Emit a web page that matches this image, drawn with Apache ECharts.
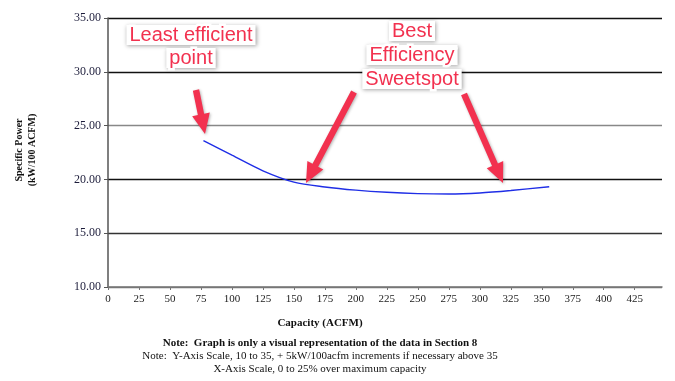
<!DOCTYPE html>
<html><head><meta charset="utf-8">
<script src="https://cdn.jsdelivr.net/npm/echarts@6/dist/echarts.min.js"></script>
<style>html,body{margin:0;padding:0;background:#fff}#c{width:675px;height:381px}</style>
</head><body><div id="c"></div>
<script>
const capacity = [77, 100, 125, 150, 175, 200, 225, 250, 275, 300, 325, 356];
const specificPower = [23.6, 22.25, 20.8, 19.75, 19.3, 19.0, 18.8, 18.68, 18.64, 18.74, 18.97, 19.32];
const yTitle = ['Specific Power', '(kW/100 ACFM)'];
const xTitle = 'Capacity (ACFM)';
const notes = [
  'Note:  Graph is only a visual representation of the data in Section 8',
  'Note:  Y-Axis Scale, 10 to 35, + 5kW/100acfm increments if necessary above 35',
  'X-Axis Scale, 0 to 25% over maximum capacity'
];
const callout1 = ['Least efficient', 'point'];
const callout2 = ['Best', 'Efficiency', 'Sweetspot'];

const serif = '"Liberation Serif","Times New Roman",serif';
const sans = '"Liberation Sans",Arial,sans-serif';
const red = '#f2314f';
const chart = echarts.init(document.getElementById('c'));

function calloutText(lines, x, y, lh) {
  return lines.map((t, i) => ({
    type: 'text', z: 20,
    x: x, y: y + i * lh,
    style: {
      text: t, align: 'center', verticalAlign: 'middle',
      font: '20px ' + sans, fill: red, stroke: '#fff', lineWidth: 5,
      backgroundColor: '#fff', padding: [0, 3],
      shadowColor: 'rgba(0,0,0,0.35)', shadowBlur: 4, shadowOffsetX: 1, shadowOffsetY: 1
    }
  }));
}
function arrow(x1, y1, x2, y2) {
  const dx = x2 - x1, dy = y2 - y1, L = Math.hypot(dx, dy);
  const ux = dx / L, uy = dy / L, px = -uy, py = ux;
  const head = 20, hw = 9, sw = 3.2;
  const bx = x2 - ux * head, by = y2 - uy * head;
  return {
    type: 'polygon', z: 15,
    shape: { points: [
      [x1 + px * sw, y1 + py * sw], [bx + px * sw, by + py * sw], [bx + px * hw, by + py * hw],
      [x2, y2], [bx - px * hw, by - py * hw], [bx - px * sw, by - py * sw], [x1 - px * sw, y1 - py * sw]
    ] },
    style: { fill: red, shadowColor: 'rgba(0,0,0,0.3)', shadowBlur: 3, shadowOffsetX: 1, shadowOffsetY: 1 }
  };
}

const graphics = [];
graphics.push({ type: 'text', x: 26, y: 150, rotation: Math.PI / 2, z: 10,
  style: { text: yTitle.join('\n'), align: 'center', verticalAlign: 'middle', font: 'bold 10px ' + serif, fill: '#111', lineHeight: 13 } });
graphics.push({ type: 'text', x: 320, y: 323, z: 10,
  style: { text: xTitle, align: 'center', verticalAlign: 'middle', font: 'bold 11px ' + serif, fill: '#111' } });
graphics.push({ type: 'text', x: 320, y: 343, z: 10,
  style: { text: notes[0], align: 'center', verticalAlign: 'middle', font: 'bold 11px ' + serif, fill: '#111' } });
graphics.push({ type: 'text', x: 320, y: 356, z: 10,
  style: { text: notes[1], align: 'center', verticalAlign: 'middle', font: '11px ' + serif, fill: '#111' } });
graphics.push({ type: 'text', x: 320, y: 369, z: 10,
  style: { text: notes[2], align: 'center', verticalAlign: 'middle', font: '11px ' + serif, fill: '#111' } });
calloutText(callout1, 191, 35, 23).forEach(g => graphics.push(g));
calloutText(callout2, 412, 31, 24).forEach(g => graphics.push(g));
graphics.push(arrow(196, 90, 205, 134));
graphics.push(arrow(354, 92, 306, 183));
graphics.push(arrow(464, 94, 503, 183));

chart.setOption({
  animation: false,
  grid: { left: 108, right: 13, top: 18, bottom: 94 },
  xAxis: {
    type: 'value', min: 0, max: 447, interval: 25,
    axisLine: { lineStyle: { color: '#777', width: 1.5 } },
    axisTick: { show: true, length: 3, inside: false, lineStyle: { color: '#777' } },
    axisLabel: { showMaxLabel: false, fontFamily: serif, fontSize: 11, color: '#222', margin: 7 },
    splitLine: { show: false }
  },
  yAxis: {
    type: 'value', min: 10, max: 35, interval: 5,
    axisLine: { show: true, lineStyle: { color: '#555', width: 1.5 } },
    axisTick: { show: true, length: 4, lineStyle: { color: '#555' } },
    axisLabel: { formatter: v => v.toFixed(2), fontFamily: serif, fontSize: 12, color: '#1c1c3a', margin: 7 },
    splitLine: { show: true, lineStyle: { color: ['#777', '#333', '#111', '#888', '#111', '#111'], width: 1.3 } }
  },
  series: [{
    type: 'line', smooth: 0.3, symbol: 'none',
    lineStyle: { color: '#1f2ee6', width: 1.4 },
    data: capacity.map((c, i) => [c, specificPower[i]])
  }],
  graphic: graphics
});
</script>
</body></html>
